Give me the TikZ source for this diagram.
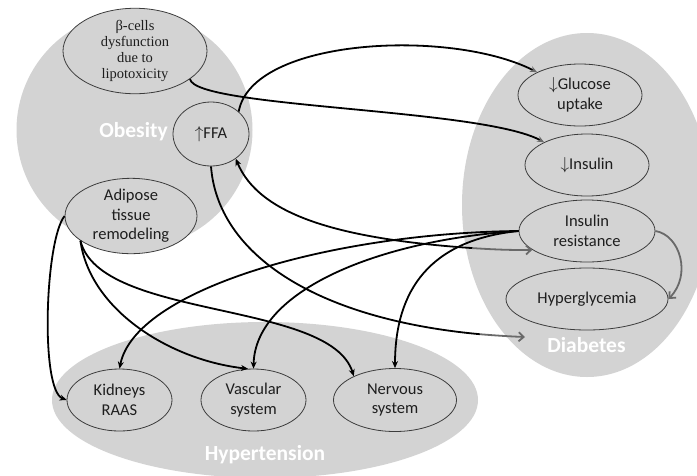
\documentclass[tikz,border=0pt]{standalone}
\usepackage{fontspec}
\setmainfont{Carlito}
\newfontfamily\serifb{Liberation Serif}
\usetikzlibrary{arrows.meta,shapes.geometric}
\definecolor{regiongray}{RGB}{211,211,211}
\definecolor{arrowgray}{RGB}{105,105,105}
\definecolor{edgedark}{RGB}{60,60,60}
\definecolor{textdark}{RGB}{30,30,30}
\begin{document}
\begin{tikzpicture}[x=1pt,y=-1pt,
  item/.style={ellipse,draw=edgedark,line width=0.8pt,fill=regiongray,inner sep=0pt,align=center,
    font=\fontsize{16.5}{19.5}\selectfont,text=textdark},
  regionlabel/.style={text=white,font=\fontsize{21.5}{24}\selectfont\bfseries,inner sep=0pt},
  blk/.style={line width=1.8pt,draw=black},
  grayline/.style={line width=1.8pt,draw=arrowgray},
  tipblack/.style={-{Stealth[length=7pt,width=6pt]}},
  tipgray/.style={-{Stealth[length=7pt,width=6pt,color=arrowgray]}},
  barbgray/.style={-{Straight Barb[length=5pt,width=9pt,color=arrowgray]}}
]
\useasboundingbox (0,0) rectangle (697,475);
\clip (0,0) rectangle (697,475);
% regions
\fill[regiongray] (134.5,130) circle [radius=118pt];
\fill[regiongray] (587,205) ellipse [x radius=125pt,y radius=172pt];
\fill[regiongray] (265,400) ellipse [x radius=213pt,y radius=78pt];
\node[regionlabel,anchor=base] (lobes) at (133.5,137) {Obesity};
\node[regionlabel,anchor=base] (ldiab) at (586.5,352) {Diabetes};
\node[regionlabel,anchor=base] (lhyp) at (265,460) {Hypertension};
% nodes
\node[item,font=\serifb\fontsize{14.5}{15.7}\selectfont,minimum width=144pt,minimum height=72pt] (beta) at (135,51) {β-cells\\dysfunction\\due to\\lipotoxicity};
\node[item,minimum width=76pt,minimum height=64pt] (ffa) at (211,134) {$\uparrow$FFA};
\node[item,minimum width=132pt,minimum height=62pt] (adip) at (131,216) {Adipose\\tissue\\remodeling};
\node[item,minimum width=124pt,minimum height=62pt] (gluc) at (580,95) {$\downarrow$Glucose\\uptake};
\node[item,minimum width=124pt,minimum height=62pt] (ins) at (587,165) {$\downarrow$Insulin};
\node[item,minimum width=136pt,minimum height=62pt] (ir) at (587,231) {Insulin\\resistance};
\node[item,minimum width=162pt,minimum height=62pt] (hyper) at (587,299) {Hyperglycemia};
\node[item,minimum width=105pt,minimum height=62pt] (kid) at (119.5,400) {Kidneys\\RAAS};
\node[item,minimum width=105pt,minimum height=62pt] (vas) at (253.5,400) {Vascular\\system};
\node[item,minimum width=123pt,minimum height=63pt] (nerv) at (395,400) {Nervous\\system};
% connectors
\draw[blk,tipgray] (ffa.39) .. controls (252,38) and (450,28) .. (gluc.152);
\draw[blk,tipgray] (beta.-27) .. controls (195,108) and (480,108) .. (ins.152);
\coordinate (s3) at (472.5,248.1);
\draw[blk,{Stealth[length=7pt,width=6pt]}-] (ffa.-45) .. controls (259,214.6) and (337.5,238.9) .. (s3);
\draw[grayline,barbgray] (s3) .. controls (490.9,249.3) and (510.5,250.3) .. (ir.199);
\coordinate (dend) at (525,337);
\coordinate (s4) at (479.8,334.2);
\draw[blk] (ffa.south) .. controls (217.5,252.6) and (312.7,318.7) .. (s4);
\draw[grayline,barbgray] (s4) .. controls (494.3,335.4) and (509.4,336.4) .. (dend);
\draw[grayline,barbgray] (ir.east) .. controls (680,235) and (692,275) .. (hyper.east);
\draw[blk,tipblack] (ir.west) .. controls (330,233) and (135,290) .. (kid.north);
\draw[blk,tipblack] (ir.west) .. controls (380,240) and (255,290) .. (vas.north);
\draw[blk,tipblack] (ir.west) .. controls (430,240) and (395,290) .. (nerv.north);
\draw[blk,tipblack] (adip.west) .. controls (45,240) and (40,390) .. (kid.west);
\draw[blk,tipblack] (adip.206) .. controls (90,310) and (170,360) .. (vas.100);
\draw[blk,tipblack] (adip.206) .. controls (100,320) and (330,300) .. (nerv.150);
\end{tikzpicture}
\end{document}
